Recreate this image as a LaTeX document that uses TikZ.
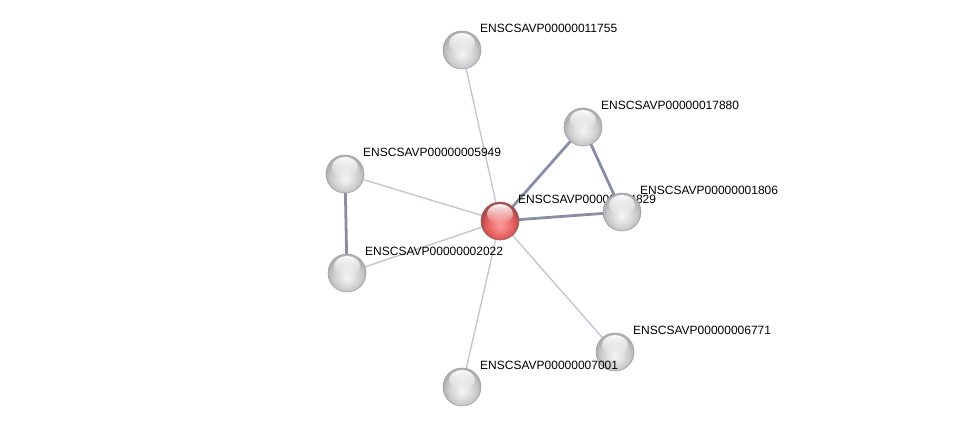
\documentclass[tikz,border=0pt]{standalone}
\usepackage{fontspec}
\setmainfont{Liberation Sans}
\usetikzlibrary{fadings}
\definecolor{weakedge}{RGB}{196,198,214}
\definecolor{strongedge}{RGB}{136,142,166}
\pgfdeclareradialshading{protball}{\pgfpoint{0bp}{-6bp}}{color(0bp)=(gray!8); color(10bp)=(gray!24); color(19bp)=(gray!42); color(25bp)=(gray!62); color(50bp)=(gray!62)}
\pgfdeclareradialshading{seedball}{\pgfpoint{0bp}{-6bp}}{color(0bp)=(red!40!white); color(10bp)=(red!50!white!95!black); color(19bp)=(red!60!white!88!black); color(25bp)=(red!55!white!65!black); color(50bp)=(red!55!white!65!black)}
\tikzfading[name=glint, top color=transparent!5, bottom color=transparent!100]

\begin{document}
\begin{tikzpicture}[x=1pt,y=-1pt,
    prot/.style={circle,minimum size=38pt,inner sep=0pt,draw=gray!75,line width=0.6pt,shading=protball},
    seed/.style={prot,shading=seedball,draw=red!25!gray},
    glint/.style={fill=white,path fading=glint},
    lbl/.style={anchor=west,inner sep=0pt,font=\fontsize{12}{13}\selectfont},
    weak/.style={draw=weakedge,line width=1.4pt},
    strong/.style={draw=strongedge,line width=2.8pt}]
    \useasboundingbox (0,0) rectangle (975,432);

    % draw node positions
    \coordinate (p-c) at (500,221);
    \coordinate (p-11755) at (462,50);
    \coordinate (p-17880) at (583,127);
    \coordinate (p-5949) at (345,174);
    \coordinate (p-1806) at (622,212);
    \coordinate (p-2022) at (347,273);
    \coordinate (p-6771) at (615,352);
    \coordinate (p-7001) at (462,387);

    % draw edges
    \foreach \n in {11755,5949,2022,7001,6771}
        \draw[weak] (p-c) -- (p-\n);
    \draw[strong] (p-c) -- (p-17880);
    \draw[strong] (p-c) -- (p-1806);
    \draw[strong] (p-17880) -- (p-1806);
    \draw[strong] (p-5949) -- (p-2022);

    % draw nodes and labels
    \node[seed] (c) at (p-c) {};
    \fill[glint] ([yshift=7pt]c.center) ellipse (13pt and 10pt);
    \node[lbl] (l-c) at ([xshift=18pt,yshift=22pt]c.center) {ENSCSAVP00000004829};
    \foreach \n/\id in {11755/00011755,17880/00017880,5949/00005949,1806/00001806,2022/00002022,6771/00006771,7001/00007001} {
        \node[prot] (n-\n) at (p-\n) {};
        \fill[glint] ([yshift=7pt]n-\n.center) ellipse (13pt and 10pt);
        \node[lbl] (l-\n) at ([xshift=18pt,yshift=22pt]n-\n.center) {ENSCSAVP000\id};
    }
\end{tikzpicture}
\end{document}
